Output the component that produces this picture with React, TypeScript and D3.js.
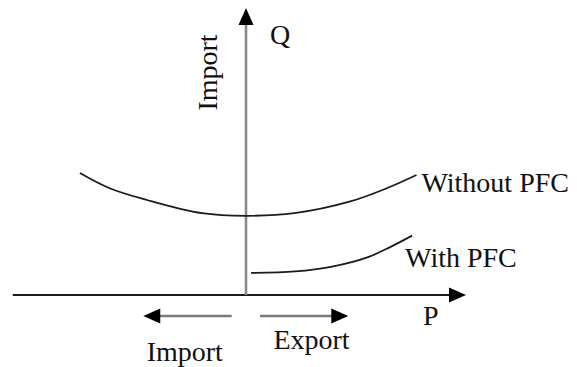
import React from "react";
import * as d3 from "d3";

// Curve data (P, Q) in chart units
const withoutPFC: [number, number][] = [
  [-7.55, 4.25], [-6.2, 3.72], [-4.5, 3.31], [-2.0, 2.85], [0, 2.76],
  [2.2, 2.85], [4.7, 3.25], [6.4, 3.72], [7.75, 4.18],
];
const withPFC: [number, number][] = [
  [0.23, 0.77], [2.23, 0.82], [3.91, 0.99], [5.55, 1.32], [6.55, 1.67], [7.55, 2.07],
];

const curveLabels = ["Without PFC", "With PFC"];
const axisLabels = { x: "P", y: "Q", yDir: "Import" };
const dirLabels = ["Import", "Export"];

// axis extents (chart units)
const pExtent = [-10.6, 10];
const qExtent = [0, 10];
// direction arrows under the P axis: [from, to] in P units, at Q level
const dirArrows: [number, number][] = [[-0.65, -4.67], [0.64, 4.65]];
const dirArrowQ = -0.73;

const W = 577;
const H = 367;
const FONT = "'Liberation Serif', 'Times New Roman', serif";

function head(tx: number, ty: number, dx: number, dy: number, len = 17, half = 7.5) {
  // dx,dy unit direction pointing to tip
  const bx = tx - dx * len, by = ty - dy * len;
  const px = -dy, py = dx;
  return `M${tx},${ty}L${bx + px * half},${by + py * half}L${bx - px * half},${by - py * half}Z`;
}

export default function App() {
  const x = d3.scaleLinear().domain([-10, 10]).range([26, 466]);
  const y = d3.scaleLinear().domain([0, 10]).range([295, 8]);

  const line = d3
    .line<[number, number]>()
    .x((d) => x(d[0]))
    .y((d) => y(d[1]))
    .curve(d3.curveCatmullRom.alpha(0.5));

  const x0 = x(0), y0 = y(0);
  const pTip = x(pExtent[1]);
  const qTip = y(qExtent[1]);

  const endA = withoutPFC[withoutPFC.length - 1];
  const endB = withPFC[withPFC.length - 1];

  return (
    <svg
      width={W}
      height={H}
      style={{ position: "absolute", left: 0, top: 0, background: "#fff" }}
      fontFamily={FONT}
    >
      <rect width={W} height={H} fill="#fff" />
      {/* P axis */}
      <line x1={x(pExtent[0])} y1={y0} x2={pTip - 12} y2={y0} stroke="#1a1a1a" strokeWidth={2.2} />
      <path d={head(pTip, y0, 1, 0)} fill="#000" />
      {/* Q axis */}
      <line x1={x0} y1={y0} x2={x0} y2={qTip + 12} stroke="#8a8a8a" strokeWidth={2.6} />
      <path d={head(x0, qTip, 0, -1)} fill="#000" />

      {/* curves */}
      <path d={line(withoutPFC) || ""} fill="none" stroke="#1c1c1c" strokeWidth={1.8} />
      <path d={line(withPFC) || ""} fill="none" stroke="#1c1c1c" strokeWidth={1.8} />

      {/* direction arrows */}
      {dirArrows.map(([a, b], i) => {
        const dir = Math.sign(b - a);
        const ya = y(dirArrowQ);
        return (
          <g key={i}>
            <line x1={x(a)} y1={ya} x2={x(b) - dir * 12} y2={ya} stroke="#7a7a7a" strokeWidth={2.6} />
            <path d={head(x(b), ya, dir, 0)} fill="#000" />
          </g>
        );
      })}

      {/* labels */}
      <g fontSize={28} fill="#111">
        <text x={x(endA[0]) + 5} y={y(endA[1]) + 17}>{curveLabels[0]}</text>
        <text x={x(endB[0]) - 7} y={y(endB[1]) + 31.5}>{curveLabels[1]}</text>
        <text x={x0 + 24} y={qTip + 36}>{axisLabels.y}</text>
        <text x={pTip - 43} y={y0 + 30}>{axisLabels.x}</text>
        <text
          transform={`translate(${x0 - 29.5},${(y0 + qTip) / 2 - 79}) rotate(-90)`}
          textAnchor="middle"
        >
          {axisLabels.yDir}
        </text>
        <text x={x(dirArrows[0][1]) + 3.4} y={y(dirArrowQ) + 45}>{dirLabels[0]}</text>
        <text x={x(dirArrows[1][0]) + 13.3} y={y(dirArrowQ) + 33.5}>{dirLabels[1]}</text>
      </g>
    </svg>
  );
}
